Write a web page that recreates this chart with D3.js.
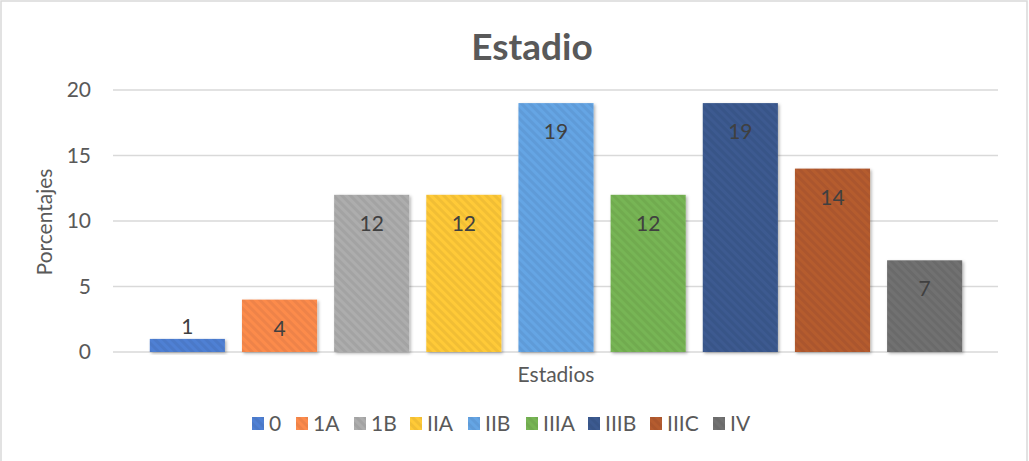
<!DOCTYPE html>
<html>
<head>
<meta charset="utf-8">
<script src="https://cdn.jsdelivr.net/npm/d3@7"></script>
<style>
  body { margin: 0; background: #fff; }
  text { font-family: Lato, "Open Sans", sans-serif; }
</style>
</head>
<body>
<svg width="1029" height="461"></svg>
<script>
var stages = ["0", "1A", "1B", "IIA", "IIB", "IIIA", "IIIB", "IIIC", "IV"];
var values = [1, 4, 12, 12, 19, 12, 19, 14, 7];
var colors = ["#4D7CCE", "#F5874A", "#A8A8A8", "#F8C435", "#62A0DE", "#74B052", "#3A578C", "#B0592E", "#6E6E6E"];
var yTicks = [0, 5, 10, 15, 20];

var svg = d3.select("svg"),
    width = +svg.attr("width"),
    height = +svg.attr("height");

// chart border
svg.append("rect")
    .attr("x", 1).attr("y", 1)
    .attr("width", width - 3).attr("height", height + 5)
    .attr("fill", "#fff")
    .attr("stroke", "#d9d9d9")
    .attr("stroke-width", 1.5);

var defs = svg.append("defs");

// soft shadow like excel
var shadow = defs.append("filter").attr("id", "shadow")
    .attr("x", "-10%").attr("y", "-10%").attr("width", "130%").attr("height", "130%");
shadow.append("feDropShadow")
    .attr("dx", 1.5).attr("dy", 1.5)
    .attr("stdDeviation", 1.5)
    .attr("flood-color", "#000")
    .attr("flood-opacity", 0.3);

// diagonal stripe texture, one per colour
colors.forEach(function(c, i) {
  var p = defs.append("pattern")
      .attr("id", "stripe" + i)
      .attr("patternUnits", "userSpaceOnUse")
      .attr("width", 6).attr("height", 6)
      .attr("patternTransform", "rotate(45)");
  p.append("rect").attr("width", 6).attr("height", 6).attr("fill", d3.color(c).darker(0.08));
  p.append("rect").attr("width", 6).attr("height", 3)
      .attr("fill", d3.color(c).brighter(0.08));
});

var x = d3.scaleBand()
    .domain(stages)
    .range([141.5, 970.5])
    .paddingInner(0.185)
    .paddingOuter(0.09);

var y = d3.scaleLinear()
    .domain([0, 20])
    .range([352, 90]);

// gridlines
svg.append("g")
  .selectAll("line")
  .data(yTicks)
  .enter().append("line")
    .attr("x1", 113).attr("x2", 998)
    .attr("y1", function(d) { return y(d); })
    .attr("y2", function(d) { return y(d); })
    .attr("stroke", "#d9d9d9")
    .attr("stroke-width", 1.5);

// y axis labels
var yAxis = svg.append("g")
    .attr("transform", "translate(99,0)")
    .call(d3.axisLeft(y).tickValues(yTicks).tickSize(0).tickPadding(8));
yAxis.select(".domain").remove();
yAxis.selectAll("text")
    .attr("fill", "#595959")
    .style("font-size", "21px")
    .style("font-family", "Lato, 'Open Sans', sans-serif");

// bars
svg.append("g")
  .selectAll("rect")
  .data(values)
  .enter().append("rect")
    .attr("x", function(d, i) { return x(stages[i]); })
    .attr("y", function(d) { return y(d); })
    .attr("width", x.bandwidth())
    .attr("height", function(d) { return y(0) - y(d); })
    .attr("fill", function(d, i) { return "url(#stripe" + i + ")"; })
    .attr("filter", "url(#shadow)");

// data labels
svg.append("g")
  .selectAll("text")
  .data(values)
  .enter().append("text")
    .attr("x", function(d, i) { return x(stages[i]) + x.bandwidth() / 2; })
    .attr("y", function(d) {
      var h = y(0) - y(d);
      return h < 40 ? y(d) - 5 : y(d) + 36;
    })
    .attr("text-anchor", "middle")
    .attr("fill", "#404040")
    .style("font-size", "21px")
    .text(function(d) { return d; });

// title
svg.append("text")
    .attr("x", 532).attr("y", 60)
    .attr("text-anchor", "middle")
    .attr("fill", "#595959")
    .style("font-size", "37px")
    .style("font-weight", "bold")
    .text("Estadio");

// axis titles
svg.append("text")
    .attr("x", 556).attr("y", 382)
    .attr("text-anchor", "middle")
    .attr("fill", "#595959")
    .style("font-size", "21px")
    .text("Estadios");

svg.append("text")
    .attr("transform", "translate(52,222) rotate(-90)")
    .attr("text-anchor", "middle")
    .attr("fill", "#595959")
    .style("font-size", "21px")
    .text("Porcentajes");

// legend
var legendX = [252, 296, 354, 410, 468, 526, 588, 650, 713];
var legend = svg.append("g")
  .selectAll("g")
  .data(stages)
  .enter().append("g")
    .attr("transform", function(d, i) { return "translate(" + legendX[i] + ",417)"; });
legend.append("rect")
    .attr("width", 12).attr("height", 13)
    .attr("fill", function(d, i) { return "url(#stripe" + i + ")"; });
legend.append("text")
    .attr("x", 17).attr("y", 14)
    .attr("fill", "#595959")
    .style("font-size", "21px")
    .text(function(d) { return d; });
</script>
</body>
</html>
